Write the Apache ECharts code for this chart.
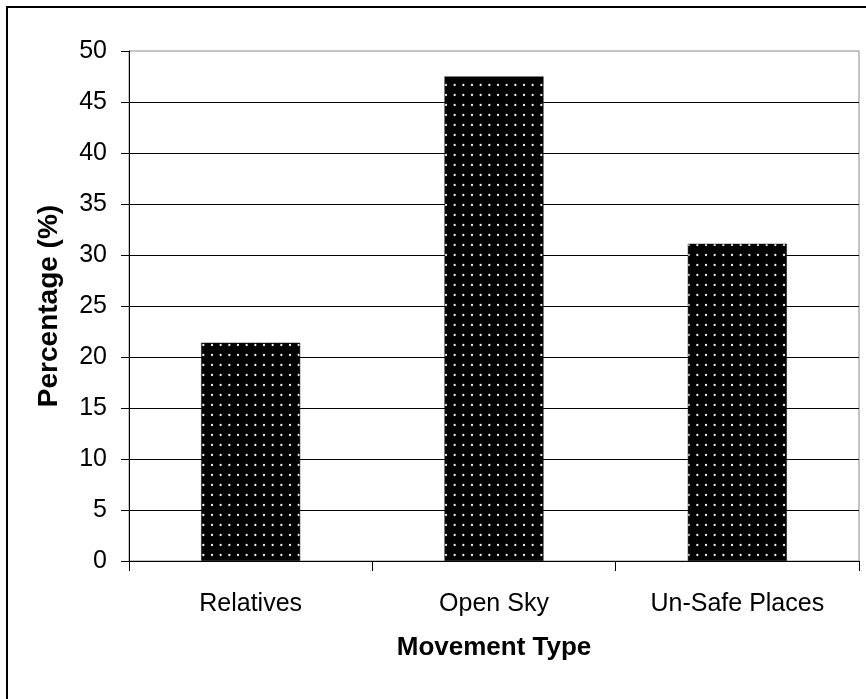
<!DOCTYPE html>
<html>
<head>
<meta charset="utf-8">
<script src="https://cdn.jsdelivr.net/npm/echarts@6/dist/echarts.min.js"></script>
<style>
  html, body { margin: 0; padding: 0; background: #fff; }
  #chart { width: 866px; height: 699px; }
</style>
</head>
<body>
<div id="chart"></div>
<script>
// Share of respondents by movement type
const categories = ['Relatives', 'Open Sky', 'Un-Safe Places'];
const percentages = [21.4, 47.5, 31.1];
const yTicks = { min: 0, max: 50, interval: 5 };

// Black fill sprinkled with small light dots
function dotPattern() {
  const c = document.createElement('canvas');
  c.width = 26;
  c.height = 10;
  const ctx = c.getContext('2d');
  ctx.fillStyle = '#000';
  ctx.fillRect(0, 0, c.width, c.height);
  ctx.fillStyle = '#f2f2f2';
  [4, 12.67, 21.33].forEach(function (x) {
    ctx.beginPath();
    ctx.arc(x, 5, 1.15, 0, Math.PI * 2);
    ctx.fill();
  });
  return c;
}

const chart = echarts.init(document.getElementById('chart'), null, { renderer: 'canvas' });
const font = '"Liberation Sans", Arial, sans-serif';

chart.setOption({
  backgroundColor: '#fff',
  animation: false,
  graphic: [{
    type: 'rect',
    shape: { x: 7, y: 7, width: 880, height: 720 },
    style: { fill: 'none', stroke: '#000', lineWidth: 2 },
    silent: true,
    z: 100
  }],
  grid: {
    left: 129, top: 51, right: 7, bottom: 138,
    show: true, borderColor: '#8a8a8a', borderWidth: 1, backgroundColor: '#fff'
  },
  xAxis: {
    type: 'category',
    data: categories,
    name: 'Movement Type',
    nameLocation: 'middle',
    nameGap: 74,
    nameTextStyle: { fontFamily: font, fontSize: 26, fontWeight: 'bold', color: '#000' },
    axisLine: { show: true, lineStyle: { color: '#000', width: 1 } },
    axisTick: { show: true, length: 10, alignWithLabel: false, lineStyle: { color: '#000' } },
    axisLabel: { margin: 31, fontFamily: font, fontSize: 25, color: '#000' },
    splitLine: { show: false }
  },
  yAxis: {
    type: 'value',
    min: yTicks.min,
    max: yTicks.max,
    interval: yTicks.interval,
    name: 'Percentage (%)',
    nameLocation: 'middle',
    nameGap: 66,
    nameRotate: 90,
    nameTextStyle: { fontFamily: font, fontSize: 28, fontWeight: 'bold', color: '#000' },
    axisLine: { show: true, lineStyle: { color: '#000', width: 1 } },
    axisTick: { show: true, length: 8, inside: false, lineStyle: { color: '#000' } },
    axisLabel: { margin: 22, fontFamily: font, fontSize: 25, color: '#000' },
    splitLine: { show: true, showMinLine: false, showMaxLine: false, lineStyle: { color: '#000', width: 1.2 } }
  },
  series: [{
    type: 'bar',
    data: percentages,
    barWidth: 99,
    itemStyle: {
      color: { image: dotPattern(), repeat: 'repeat' },
      borderColor: '#111',
      borderWidth: 0.5
    },
    silent: true
  }]
});
</script>
</body>
</html>
